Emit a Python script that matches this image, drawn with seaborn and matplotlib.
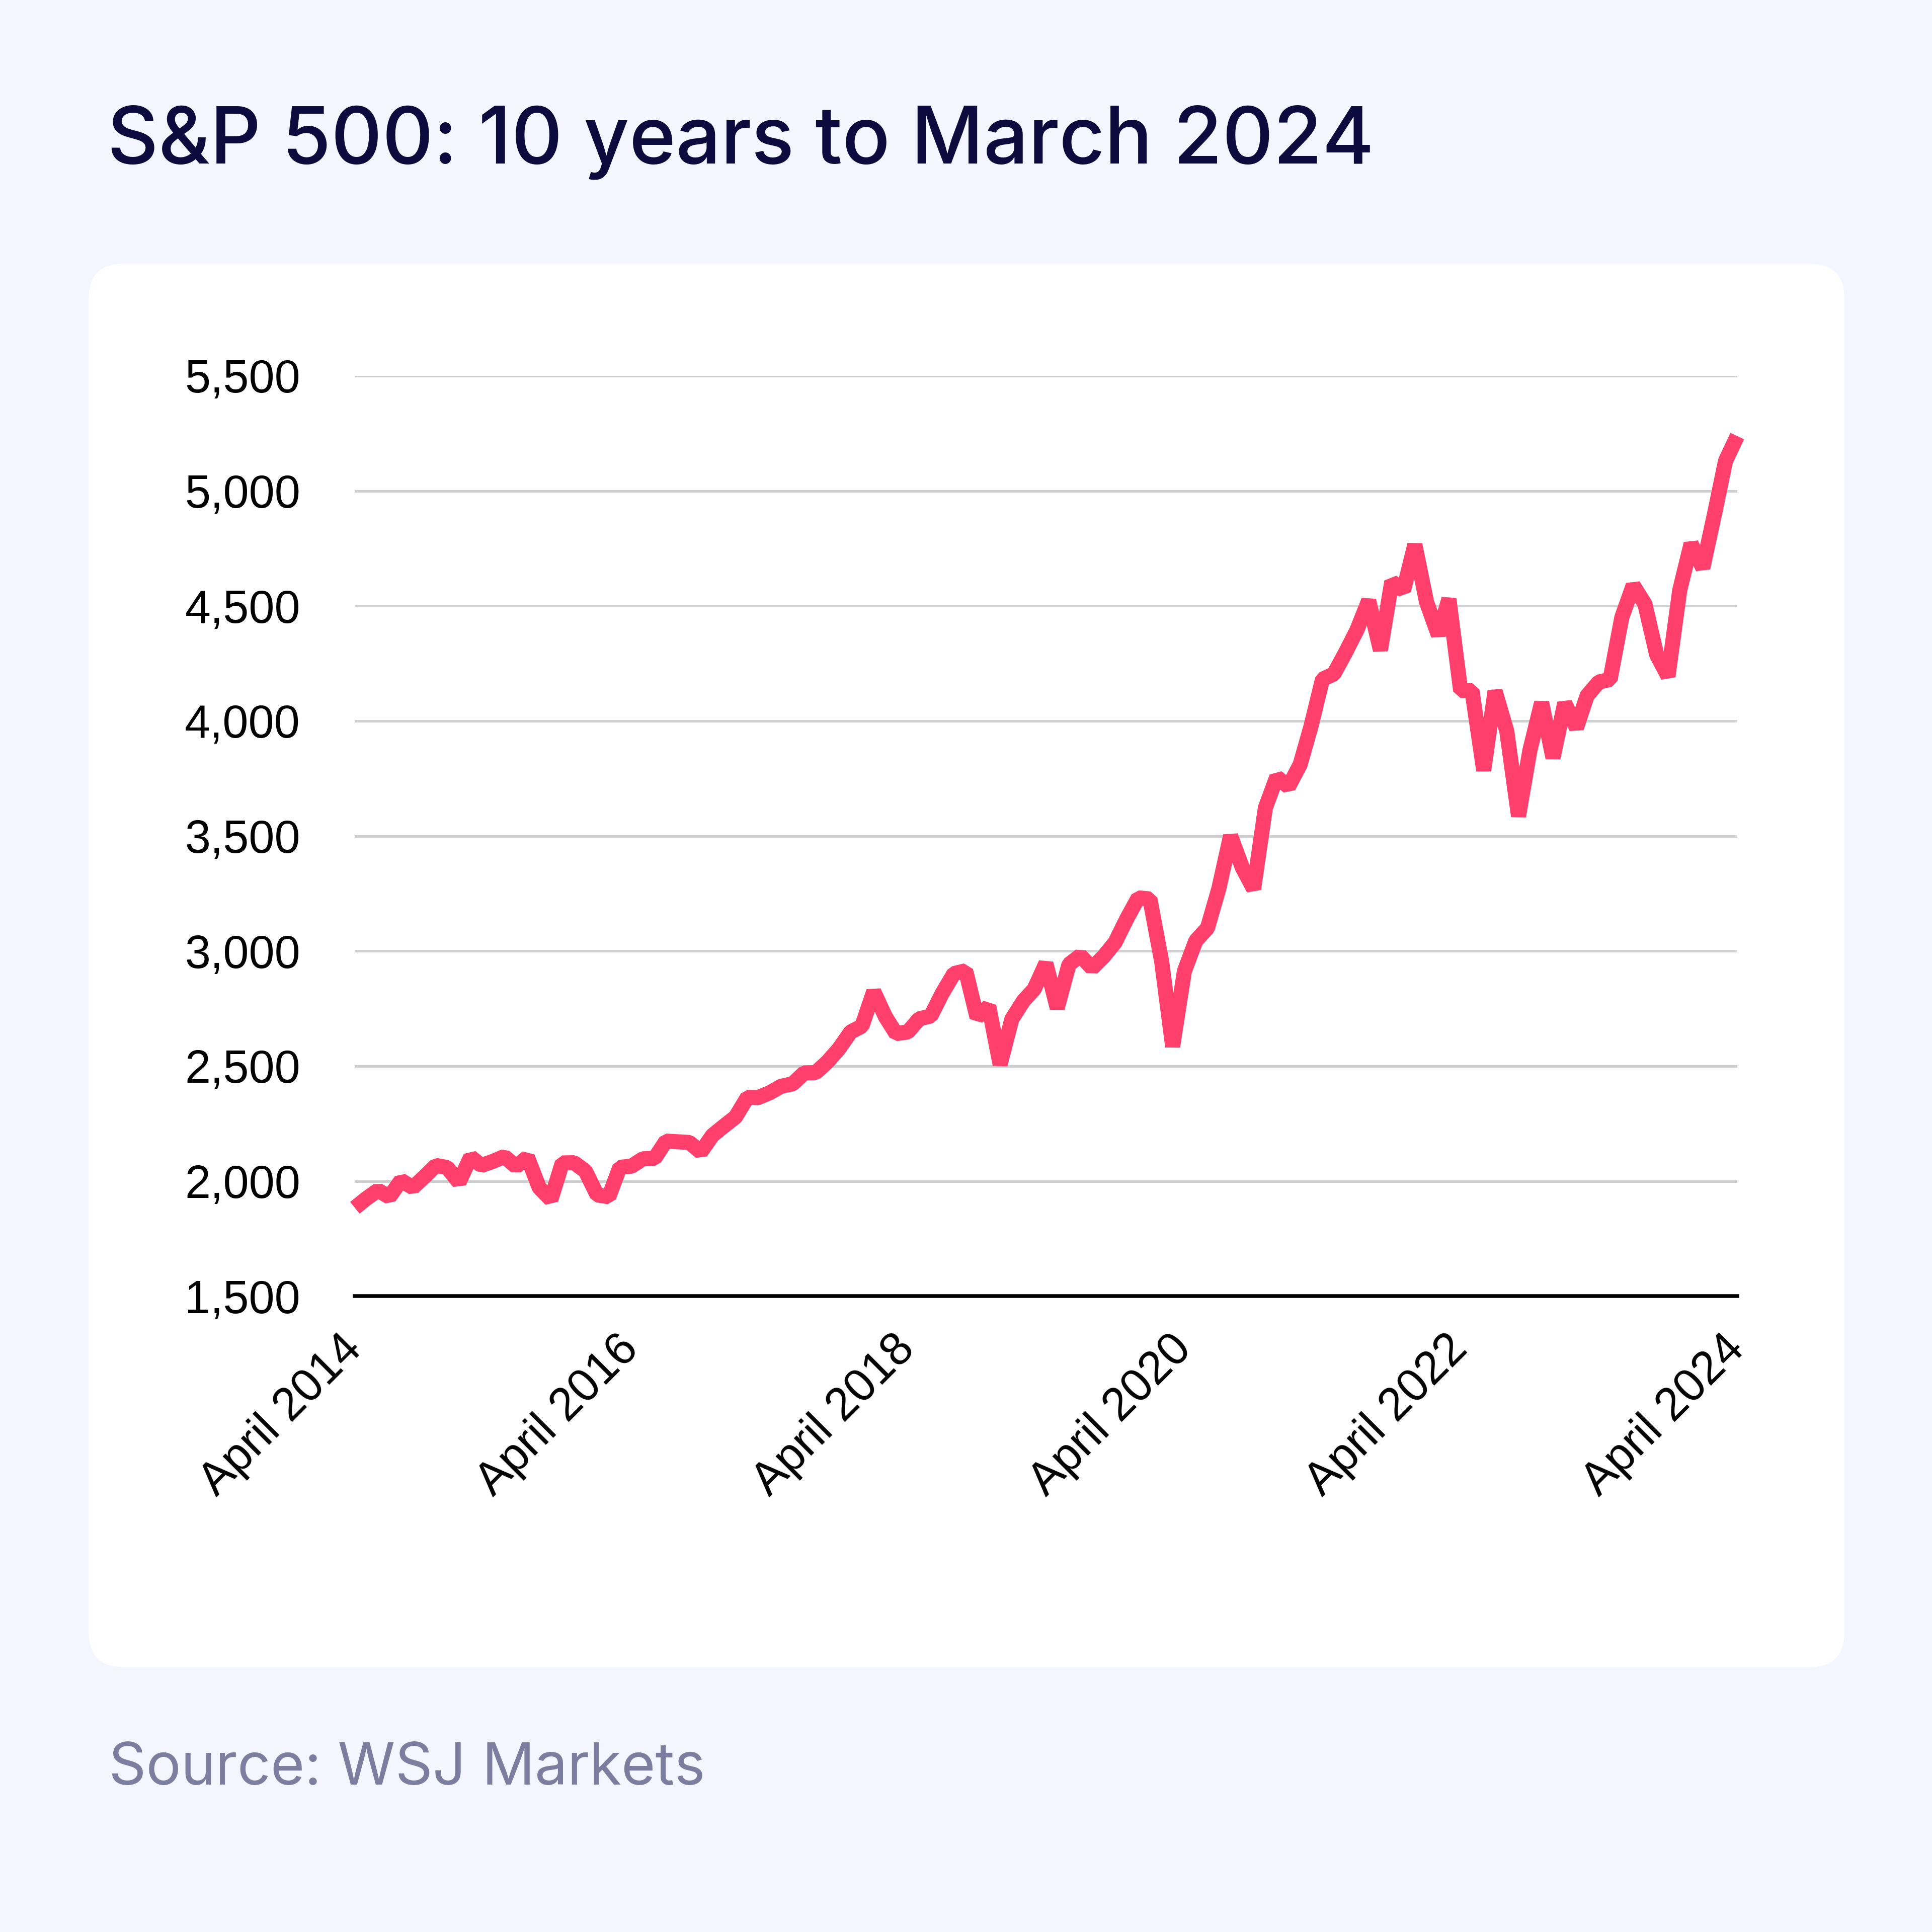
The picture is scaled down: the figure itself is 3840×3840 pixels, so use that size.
import pandas as pd
import seaborn as sns
import matplotlib.pyplot as plt
from matplotlib.patches import FancyBboxPatch

# S&P 500 monthly closes, April 2014 to April 2024
closes = [
    1884, 1924, 1960, 1931, 2003, 1972, 2018, 2068, 2059,
    1995, 2105, 2068, 2086, 2107, 2063, 2104, 1972, 1920, 2079, 2080, 2044,
    1940, 1932, 2060, 2065, 2097, 2099, 2174, 2171, 2168, 2126, 2199, 2239,
    2279, 2364, 2363, 2384, 2412, 2423, 2470, 2472, 2519, 2575, 2648, 2674,
    2824, 2714, 2641, 2648, 2705, 2718, 2816, 2902, 2914, 2712, 2760, 2507,
    2704, 2784, 2834, 2946, 2752, 2942, 2980, 2926, 2977, 3038, 3141, 3231,
    3226, 2954, 2585, 2912, 3044, 3100, 3271, 3500, 3363, 3270, 3622, 3756,
    3714, 3811, 3973, 4181, 4204, 4298, 4395, 4523, 4308, 4605, 4567, 4766,
    4516, 4374, 4530, 4132, 4132, 3785, 4130, 3955, 3586, 3872, 4080, 3840,
    4077, 3970, 4109, 4169, 4180, 4450, 4589, 4508, 4288, 4194, 4568, 4770,
    4665, 4900, 5130, 5238,
]
y_ticks = [1500, 2000, 2500, 3000, 3500, 4000, 4500, 5000, 5500]
x_tick_labels = ['April 2014', 'April 2016', 'April 2018', 'April 2020', 'April 2022', 'April 2024']

dates = pd.date_range('2014-04-01', periods=len(closes), freq='MS')
df = pd.DataFrame({'date': dates, 'close': closes})

sns.set_theme(style='white')
plt.rcParams['font.family'] = ['Liberation Sans', 'DejaVu Sans']

BG = '#F3F6FE'
fig = plt.figure(figsize=(12.8, 12.8), dpi=300, facecolor=BG)

# white rounded card behind the chart
card = FancyBboxPatch((0.0459, 0.1371), 0.9088, 0.7264,
                      boxstyle='round,pad=0,rounding_size=0.018',
                      transform=fig.transFigure, facecolor='white',
                      edgecolor='none', zorder=-5)
fig.patches.append(card)

ax = fig.add_axes([0.1837, 0.3291, 0.7155, 0.4764])
ax.set_facecolor('none')
ax.set_zorder(2)

sns.lineplot(data=df, x='date', y='close', ax=ax, color='#FF3F6C',
             linewidth=7.2, solid_joinstyle='bevel', solid_capstyle='butt',
             zorder=3, clip_on=False)

ax.set_xlim(dates[0], dates[-1])
ax.set_ylim(y_ticks[0], y_ticks[-1])
ax.set_yticks(y_ticks)
ax.set_yticklabels([f'{v:,}' for v in y_ticks])
tick_dates = [pd.Timestamp(f'{lbl.split()[1]}-04-01') for lbl in x_tick_labels]
ax.set_xticks(tick_dates)
ax.set_xticklabels(x_tick_labels)
ax.set_xlabel('')
ax.set_ylabel('')

ax.yaxis.grid(True, color='#CFCFCF', linewidth=1.2)
ax.xaxis.grid(False)
for side in ['top', 'right', 'left']:
    ax.spines[side].set_visible(False)
ax.spines['bottom'].set_color('black')
ax.spines['bottom'].set_linewidth(1.8)
ax.spines['bottom'].set_zorder(4)

ax.tick_params(axis='y', length=0, pad=26, labelsize=22, labelcolor='black')
ax.tick_params(axis='x', length=0, pad=22, labelsize=22, labelcolor='black')
plt.setp(ax.get_xticklabels(), rotation=45, ha='right', va='center',
         rotation_mode='anchor')

fig.text(0.0555, 0.9154, 'S&P 500: 10 years to March 2024', fontsize=37.8,
         family=['Inter', 'DejaVu Sans'], fontweight='medium', color='#0C0B3D',
         ha='left', va='baseline')
fig.text(0.0562, 0.0763, 'Source: WSJ Markets', fontsize=27.8,
         family=['Inter', 'DejaVu Sans'], color='#7B7E9E',
         ha='left', va='baseline')

fig.savefig('out.png', dpi=300, facecolor=BG)
